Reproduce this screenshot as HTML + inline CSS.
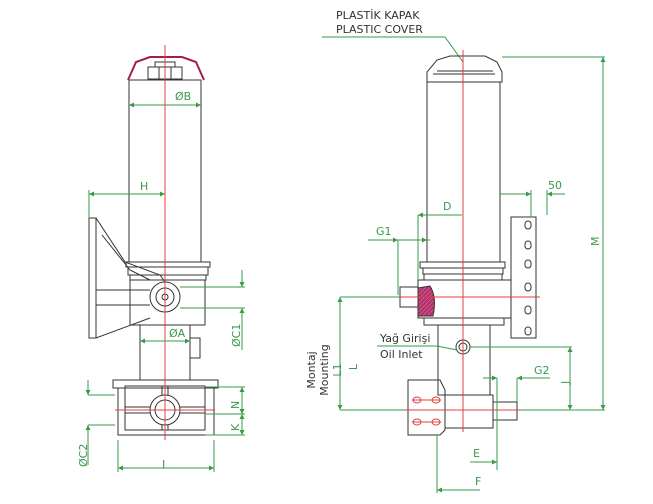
<!DOCTYPE html>
<html><head><meta charset="utf-8"><style>
body{margin:0;background:#fff;}
svg{display:block;font-family:"DejaVu Sans","Liberation Sans",sans-serif;}
.k{stroke:#333;stroke-width:1;fill:none}
.g{stroke:#3a9a4a;stroke-width:1;fill:none}
.r{stroke:#e04040;stroke-width:1;fill:none}
.t{fill:#3a9a4a;font-size:11px}
.b{fill:#333;font-size:11px}
</style></head><body>
<svg width="653" height="504" viewBox="0 0 653 504">
<defs>
<marker id="a" viewBox="0 0 10 10" refX="10" refY="5" markerWidth="7" markerHeight="5" orient="auto-start-reverse"><path d="M0,0L10,5L0,10z" fill="#3a9a4a"/></marker>
<pattern id="h" width="3" height="3" patternUnits="userSpaceOnUse" patternTransform="rotate(45)"><rect width="3" height="3" fill="#b0306a"/><line x1="0" y1="0" x2="0" y2="3" stroke="#e080b0" stroke-width="1"/></pattern>
</defs>
<!-- LEFT VIEW -->
<rect class="k" x="129" y="80" width="72" height="182"/>
<path d="M128,80 L136,62 L150,57 L182,57 L196,62 L204,80" stroke="#a02040" stroke-width="2" fill="none"/>
<rect class="k" x="155" y="62" width="20" height="5"/>
<rect class="k" x="148" y="67" width="34" height="12"/>
<line class="k" x1="159" y1="67" x2="159" y2="79"/><line class="k" x1="171" y1="67" x2="171" y2="79"/>
<rect class="k" x="126" y="262" width="84" height="5"/>
<rect class="k" x="128" y="267" width="80" height="8"/>
<rect class="k" x="130" y="275" width="76" height="5"/>
<rect class="k" x="130" y="280" width="75" height="45"/>
<path class="k" d="M89,218 L96,218 L125,262 L160,275 L165,282 M96,218 L96,338 M89,218 L89,338 L96,338 L150,318 M96,305 L150,305 M96,290 L150,290 M102,235 L130,270 L150,280"/>
<circle class="k" cx="165" cy="297" r="15"/><circle class="k" cx="165" cy="297" r="9"/><circle class="k" cx="165" cy="297" r="3"/>
<rect class="k" x="140" y="325" width="50" height="55"/>
<rect class="k" x="190" y="338" width="10" height="20"/>
<rect class="k" x="113" y="380" width="105" height="8"/>
<rect class="k" x="118" y="388" width="96" height="47"/>
<rect class="k" x="125" y="386" width="80" height="44"/>
<line class="k" x1="125" y1="407" x2="205" y2="407"/><line class="k" x1="125" y1="413" x2="205" y2="413"/>
<line class="k" x1="162" y1="386" x2="162" y2="430"/><line class="k" x1="168" y1="386" x2="168" y2="430"/>
<circle cx="165" cy="410" r="15" fill="#fff" stroke="#333"/><circle class="k" cx="165" cy="410" r="10"/>
<line class="r" x1="165" y1="45" x2="165" y2="440"/>
<line class="r" x1="115" y1="410" x2="215" y2="410"/>
<!-- dims left -->
<line class="g" x1="129" y1="105" x2="201" y2="105" marker-start="url(#a)" marker-end="url(#a)"/>
<text class="t" x="175" y="100">ØB</text>
<line class="g" x1="89" y1="194" x2="165" y2="194" marker-start="url(#a)" marker-end="url(#a)"/>
<line class="g" x1="89" y1="190" x2="89" y2="218"/>
<text class="t" x="140" y="190">H</text>
<line class="g" x1="140" y1="341" x2="190" y2="341" marker-start="url(#a)" marker-end="url(#a)"/>
<text class="t" x="169" y="337">ØA</text>
<path class="g" d="M180,287 L245,287 M180,308 L245,308 M205,387 L245,387 M205,414 L245,414 M205,435 L245,435 M115,395 L88,395 M115,425 L88,425 M118,440 L118,472 M214,440 L214,472"/>
<line class="g" x1="242" y1="270" x2="242" y2="287" marker-end="url(#a)"/>
<line class="g" x1="242" y1="350" x2="242" y2="308" marker-end="url(#a)"/>
<line class="g" x1="242" y1="387" x2="242" y2="414" marker-start="url(#a)" marker-end="url(#a)"/>
<line class="g" x1="242" y1="414" x2="242" y2="435" marker-start="url(#a)" marker-end="url(#a)"/>
<line class="g" x1="88" y1="380" x2="88" y2="395" marker-end="url(#a)"/>
<line class="g" x1="88" y1="465" x2="88" y2="425" marker-end="url(#a)"/>
<line class="g" x1="118" y1="468" x2="214" y2="468" marker-start="url(#a)" marker-end="url(#a)"/>
<text class="t" x="162" y="468">I</text>
<text class="t" transform="translate(240,347) rotate(-90)">ØC1</text>
<text class="t" transform="translate(239,409) rotate(-90)">N</text>
<text class="t" transform="translate(239,431) rotate(-90)">K</text>
<text class="t" transform="translate(87,467) rotate(-90)">ØC2</text>
<!-- RIGHT VIEW -->
<text class="b" x="336" y="19">PLASTİK KAPAK</text>
<text class="b" x="336" y="33">PLASTIC COVER</text>
<path class="g" d="M322,37 L445,37 L463,62"/>
<path class="k" d="M427,82 L427,72 L437,60 L450,56 L485,56 L497,62 L502,72 L502,82 Z"/>
<line class="k" x1="437" y1="71" x2="493" y2="71"/><line class="k" x1="433" y1="74" x2="495" y2="74"/>
<rect class="k" x="427" y="82" width="73" height="180"/>
<rect class="k" x="420" y="262" width="85" height="6"/>
<rect class="k" x="423" y="268" width="80" height="6"/>
<rect class="k" x="424" y="274" width="78" height="6"/>
<rect class="k" x="418" y="280" width="93" height="38"/>
<path d="M418,288 L430,286 Q437,297 433,316 L418,316 Z" fill="url(#h)" stroke="#333"/>
<rect class="k" x="400" y="287" width="18" height="20"/>
<rect class="k" x="424" y="318" width="80" height="7"/>
<rect class="k" x="438" y="325" width="52" height="70"/>
<circle class="k" cx="463" cy="347" r="7"/><circle class="k" cx="463" cy="347" r="4"/>
<path class="k" d="M408,380 L440,380 L445,390 L445,430 L440,435 L408,435 Z"/>
<rect class="k" x="445" y="395" width="48" height="33"/>
<rect class="k" x="493" y="402" width="24" height="18"/>
<g class="r">
<ellipse cx="417" cy="400" rx="4" ry="3"/><ellipse cx="436" cy="400" rx="4" ry="3"/>
<ellipse cx="417" cy="422" rx="4" ry="3"/><ellipse cx="436" cy="422" rx="4" ry="3"/>
<line x1="412" y1="400" x2="441" y2="400"/><line x1="412" y1="422" x2="441" y2="422"/>
</g>
<rect class="k" x="511" y="217" width="25" height="121"/>
<g class="k">
<rect x="525" y="221" width="6" height="8" rx="3"/><rect x="525" y="241" width="6" height="8" rx="3"/>
<rect x="525" y="260" width="6" height="8" rx="3"/><rect x="525" y="283" width="6" height="8" rx="3"/>
<rect x="525" y="306" width="6" height="8" rx="3"/><rect x="525" y="327" width="6" height="8" rx="3"/>
</g>
<line class="r" x1="463" y1="50" x2="463" y2="432"/>
<line class="r" x1="400" y1="297" x2="540" y2="297"/>
<line class="r" x1="405" y1="410" x2="520" y2="410"/>
<!-- dims right -->
<path class="g" d="M502,57 L605,57 M340,297 L400,297 M340,410 L405,410 M520,410 L605,410 M470,347 L572,347 M531,190 L531,217 M547,190 L547,215 M418,215 L418,280 M398,240 L398,295 M497,378 L497,470 M517,378 L517,402 M437,435 L437,493"/>
<line class="g" x1="603" y1="57" x2="603" y2="410" marker-start="url(#a)" marker-end="url(#a)"/>
<text class="t" transform="translate(599,246) rotate(-90)">M</text>
<line class="g" x1="500" y1="194" x2="531" y2="194" marker-end="url(#a)"/>
<line class="g" x1="565" y1="194" x2="547" y2="194" marker-end="url(#a)"/>
<text class="t" x="548" y="189">50</text>
<line class="g" x1="418" y1="215" x2="462" y2="215" marker-start="url(#a)"/>
<text class="t" x="443" y="210">D</text>
<line class="g" x1="368" y1="240" x2="398" y2="240" marker-end="url(#a)"/>
<line class="g" x1="430" y1="240" x2="427" y2="240"/>
<line class="g" x1="398" y1="240" x2="427" y2="240" marker-end="url(#a)"/>
<text class="t" x="376" y="235">G1</text>
<line class="g" x1="340" y1="297" x2="340" y2="410" marker-start="url(#a)" marker-end="url(#a)"/>
<text class="b" transform="translate(315,370) rotate(-90)" text-anchor="middle">Montaj</text>
<text class="b" transform="translate(328,370) rotate(-90)" text-anchor="middle">Mounting</text>
<text class="t" transform="translate(341,370) rotate(-90)" text-anchor="middle" style="fill:#3a9a4a">L1</text>
<text class="t" transform="translate(357,367) rotate(-90)" text-anchor="middle">L</text>
<text class="b" x="380" y="342">Yağ Girişi</text>
<text class="b" x="380" y="358">Oil Inlet</text>
<path class="g" d="M377,346 L437,346 L457,350"/>
<line class="g" x1="570" y1="347" x2="570" y2="410" marker-start="url(#a)" marker-end="url(#a)"/>
<text class="t" transform="translate(569,384) rotate(-90)">J</text>
<line class="g" x1="483" y1="378" x2="497" y2="378" marker-end="url(#a)"/>
<line class="g" x1="550" y1="378" x2="517" y2="378" marker-end="url(#a)"/>
<text class="t" x="534" y="374">G2</text>
<line class="g" x1="470" y1="462" x2="497" y2="462" marker-end="url(#a)"/>
<text class="t" x="473" y="457">E</text>
<line class="g" x1="480" y1="490" x2="437" y2="490" marker-end="url(#a)"/>
<text class="t" x="475" y="485">F</text>
</svg>
</body></html>
